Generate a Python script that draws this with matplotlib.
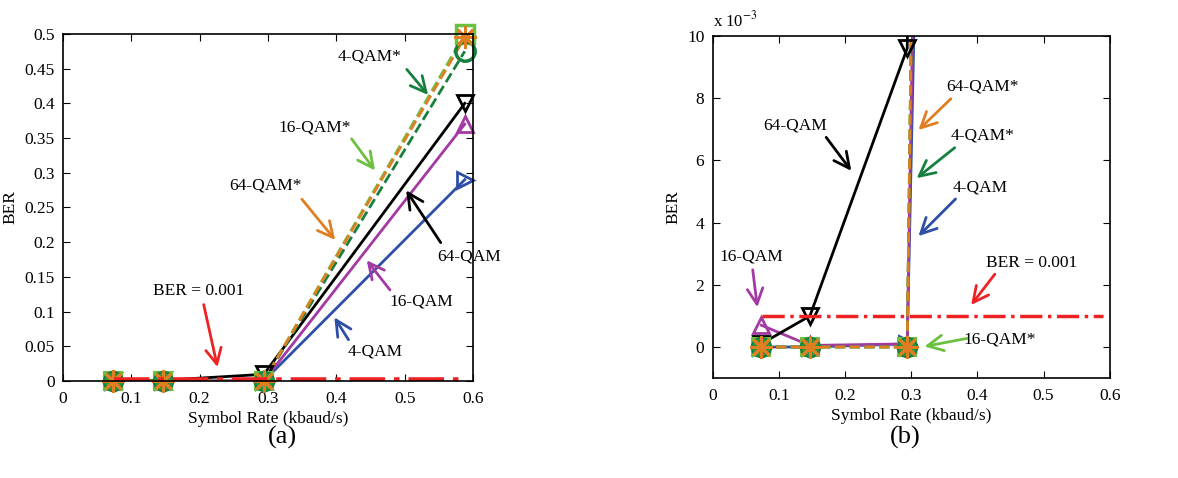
import matplotlib
matplotlib.use("Agg")
import matplotlib.pyplot as plt
from matplotlib.ticker import FuncFormatter, MultipleLocator

plt.rcParams['font.family'] = ['Liberation Serif', 'DejaVu Serif']
plt.rcParams['mathtext.fontset'] = 'stix'

# ---- data ----
rate = [0.0735, 0.147, 0.294, 0.588]
qam4 = [0.0, 0.0, 0.0001, 0.29]
qam16 = [0.0007, 0.00005, 0.0001, 0.37]
qam64 = [0.0001, 0.001, 0.0096, 0.40]
qam4s = [0.0, 0.0, 0.0, 0.475]
qam16s = [0.0, 0.0, 0.0, 0.50]
qam64s = [0.0, 0.0, 0.0, 0.495]
ber_x = [0.075, 0.59]
ber_y = [0.001, 0.001]

C_BLUE = '#2e4fa6'
C_MAG = '#a33aa3'
C_BLK = '#000000'
C_DG = '#17803e'
C_DGF = '#2f9440'
C_LG = '#6cc040'
C_OR = '#e07e22'
C_RED = '#ee2222'
AST = (8, 2, 0)

fig = plt.figure(figsize=(11.78, 4.78), dpi=100)
axA = fig.add_axes([0.0535, 0.203, 0.348, 0.726])
axB = fig.add_axes([0.605, 0.209, 0.337, 0.716])


def draw(ax, redlw, clip):
    # lines
    ax.plot(rate, qam4, color=C_BLUE, lw=2)
    ax.plot(rate, qam16, color=C_MAG, lw=2)
    ax.plot(rate, qam64, color=C_BLK, lw=2)
    ax.plot(rate, qam16s, color=C_LG, lw=2, ls='--')
    ax.plot(rate, qam4s, color=C_DG, lw=2, ls='--')
    ax.plot(rate, qam64s, color=C_OR, lw=2, ls='--')
    # markers: low-rate points appear filled, last point open
    kw = dict(ls='none', clip_on=clip)
    ax.plot(rate, qam4, marker='>', ms=11, mfc='none', mec=C_BLUE, mew=2, **kw)
    ax.plot(rate, qam16, marker='^', ms=11, mfc='none', mec=C_MAG, mew=2, **kw)
    ax.plot(rate, qam64, marker='v', ms=11, mfc='none', mec=C_BLK, mew=2, **kw)
    ax.plot(rate[:3], qam16s[:3], marker='s', ms=13, mfc=C_LG, mec=C_LG, mew=1.5, **kw)
    ax.plot(rate[3:], qam16s[3:], marker='s', ms=13, mfc='none', mec=C_LG, mew=2.5, **kw)
    ax.plot(rate[:3], qam4s[:3], marker='o', ms=14, mfc=C_DGF, mec=C_DG, mew=1.5, **kw)
    ax.plot(rate[3:], qam4s[3:], marker='o', ms=14, mfc='none', mec=C_DG, mew=2.5, **kw)
    ax.plot(rate, qam64s, marker=AST, ms=16, mfc='none', mec=C_OR, mew=2, **kw)
    ax.plot(ber_x, ber_y, color=C_RED, lw=redlw, ls='-.')
    ax.set_xlim(0, 0.6)
    ax.xaxis.set_major_locator(MultipleLocator(0.1))
    ax.xaxis.set_major_formatter(FuncFormatter(lambda v, p: ('%g' % round(v, 3))))
    ax.tick_params(direction='in', top=True, right=True, labelsize=12.5, length=5)
    ax.tick_params(axis='x', pad=7)
    ax.tick_params(axis='y', pad=6)
    for s in ax.spines.values():
        s.set_linewidth(1.2)
    ax.set_xlabel('Symbol Rate (kbaud/s)', fontsize=12.5, labelpad=3)
    ax.set_ylabel('BER', fontsize=12.5, labelpad=4)


def ann(ax, text, xy, xytext, color, textpos):
    ax.annotate('', xy=xy, xytext=xytext,
                arrowprops=dict(arrowstyle='->', color=color, lw=2, mutation_scale=28))
    ax.text(textpos[0], textpos[1], text, fontsize=12.5, ha='center', va='center')


draw(axA, 4, False)
axA.set_ylim(0, 0.5)
axA.yaxis.set_major_locator(MultipleLocator(0.05))
axA.yaxis.set_major_formatter(FuncFormatter(lambda v, p: ('%g' % round(v, 3))))

ann(axA, '4-QAM*', (0.537, 0.409), (0.5005, 0.452), C_DG, (0.449, 0.467))
ann(axA, '16-QAM*', (0.459, 0.300), (0.420, 0.352), C_LG, (0.369, 0.365))
ann(axA, '64-QAM*', (0.401, 0.200), (0.347, 0.265), C_OR, (0.296, 0.281))
ann(axA, '64-QAM', (0.500, 0.278), (0.555, 0.196), C_BLK, (0.594, 0.180))
ann(axA, '16-QAM', (0.442, 0.177), (0.481, 0.128), C_MAG, (0.524, 0.114))
ann(axA, '4-QAM', (0.395, 0.095), (0.420, 0.056), C_BLUE, (0.457, 0.042))
ann(axA, 'BER = 0.001', (0.227, 0.016), (0.205, 0.114), C_RED, (0.198, 0.130))

draw(axB, 2.5, True)
axB.set_ylim(-0.001, 0.010)
axB.yaxis.set_major_locator(MultipleLocator(0.002))
axB.yaxis.set_major_formatter(FuncFormatter(lambda v, p: ('%g' % round(v * 1000, 3))))
axB.text(0.0, 1.015, 'x 10$^{-3}$', transform=axB.transAxes, fontsize=12, ha='left', va='bottom')

ann(axB, '64-QAM', (0.212, 0.00559), (0.169, 0.00681), C_BLK, (0.124, 0.00713))
ann(axB, '64-QAM*', (0.308, 0.00691), (0.363, 0.00804), C_OR, (0.408, 0.00836))
ann(axB, '4-QAM*', (0.305, 0.00537), (0.369, 0.00646), C_DG, (0.408, 0.00681))
ann(axB, '4-QAM', (0.308, 0.00350), (0.370, 0.00482), C_BLUE, (0.405, 0.00514))
ann(axB, 'BER = 0.001', (0.388, 0.00128), (0.429, 0.00241), C_RED, (0.482, 0.00270))
ann(axB, '16-QAM', (0.068, 0.00119), (0.060, 0.00257), C_MAG, (0.059, 0.00292))
ann(axB, '16-QAM*', (0.316, 0.0000), (0.388, 0.00029), C_LG, (0.434, 0.00025))

fig.text(282 / 1178, 1 - 437 / 478, '(a)', fontsize=19, ha='center', va='center')
fig.text(905 / 1178, 1 - 437 / 478, '(b)', fontsize=19, ha='center', va='center')

fig.savefig('out.png', dpi=100)
